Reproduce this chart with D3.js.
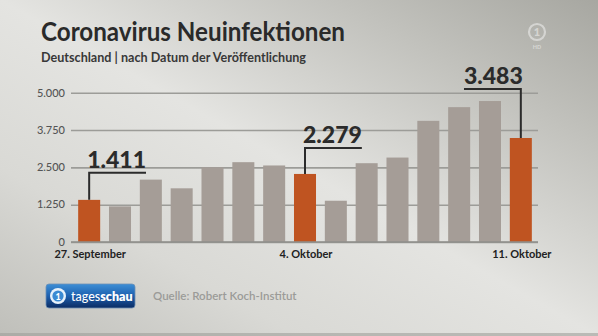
<!DOCTYPE html>
<html>
<head>
<meta charset="utf-8">
<script src="https://cdn.jsdelivr.net/npm/d3@7"></script>
<style>
  html, body { margin: 0; padding: 0; background: #d8d8d4; }
  svg { display: block; }
  text { font-family: Lato, "Open Sans", "DejaVu Sans", sans-serif; }
</style>
</head>
<body>
<script>
// Daily new infections reported (Germany, by publication date)
const days = ["27.09.", "28.09.", "29.09.", "30.09.", "01.10.", "02.10.", "03.10.",
              "04.10.", "05.10.", "06.10.", "07.10.", "08.10.", "09.10.", "10.10.", "11.10."];
const cases = [1411, 1192, 2089, 1798, 2503, 2673, 2563, 2279, 1382, 2639, 2828, 4058, 4516, 4721, 3483];
// Sundays: highlighted bars with a value callout
const highlighted = ["27.09.", "04.10.", "11.10."];
// Axis labels under the highlighted days
const dayLabels = ["27. September", "4. Oktober", "11. Oktober"];
const yTicks = [0, 1250, 2500, 3750, 5000];

const W = 598, H = 336;
const svg = d3.select("body").append("svg").attr("width", W).attr("height", H);
const defs = svg.append("defs");

// background: light diagonal band from top-left to bottom-right
const bg = defs.append("linearGradient").attr("id", "bg")
  .attr("x1", "100%").attr("y1", "0%").attr("x2", "0%").attr("y2", "100%");
[[0, "#a7a7a1"], [0.22, "#c2c2bd"], [0.5, "#e4e4e1"], [0.75, "#d9d9d5"], [1, "#bfbfba"]]
  .forEach(([o, c]) => bg.append("stop").attr("offset", o).attr("stop-color", c));
svg.append("rect").attr("width", W).attr("height", H).attr("fill", "url(#bg)");
svg.append("rect").attr("y", H - 3).attr("width", W).attr("height", 3).attr("fill", "#9f9f9a").attr("opacity", 0.6);

// fit text to a target width
function fit(sel, w) {
  const n = sel.node();
  if (n.getComputedTextLength() > w) sel.attr("textLength", w).attr("lengthAdjust", "spacingAndGlyphs");
}

// title
fit(svg.append("text").attr("x", 41).attr("y", 41)
  .attr("font-size", 27).attr("font-weight", 700).attr("fill", "#2a2a2a")
  .text("Coronavirus Neuinfektionen"), 304);
fit(svg.append("text").attr("x", 41).attr("y", 62)
  .attr("font-size", 14).attr("font-weight", 700).attr("fill", "#383838")
  .text("Deutschland | nach Datum der Veröffentlichung"), 265);

// broadcaster mark, top right
const ard = svg.append("g").attr("transform", "translate(537,32)").attr("opacity", 0.45);
ard.append("circle").attr("r", 8).attr("fill", "none").attr("stroke", "#fff").attr("stroke-width", 2.2);
ard.append("text").attr("text-anchor", "middle").attr("y", 4).attr("font-size", 11)
  .attr("font-weight", 900).attr("fill", "#fff").text("1");
ard.append("text").attr("text-anchor", "middle").attr("y", 17).attr("font-size", 5.5)
  .attr("font-weight", 700).attr("fill", "#fff").text("HD");

// scales
const x = d3.scaleBand().domain(days).range([72, 538]).paddingInner(0.286).paddingOuter(0.2);
const y = d3.scaleLinear().domain([0, 5000]).range([242, 92.7]);
const de = d3.formatLocale({ decimal: ",", thousands: ".", grouping: [3], currency: ["", " €"] });
const fmt = de.format(",d");

// grid + y axis
const yAxis = svg.append("g").attr("transform", "translate(71,0)")
  .call(d3.axisLeft(y).tickValues(yTicks).tickFormat(fmt).tickSize(-(538 - 71)).tickPadding(6));
yAxis.select(".domain").remove();
yAxis.selectAll(".tick line").attr("stroke", "#9c9c98").attr("stroke-width", 1.6);
yAxis.selectAll(".tick text").attr("font-size", 11).attr("font-weight", 500)
  .attr("fill", "#555").attr("font-family", "Lato, sans-serif").attr("dy", "0.3em");

// bars
svg.append("g").selectAll("rect").data(days).join("rect")
  .attr("x", d => x(d)).attr("width", x.bandwidth())
  .attr("y", (d, i) => y(cases[i])).attr("height", (d, i) => y(0) - y(cases[i]))
  .attr("fill", d => highlighted.includes(d) ? "#bf5421" : "#a59d97");

// baseline
svg.append("line").attr("x1", 71).attr("x2", 538).attr("y1", y(0)).attr("y2", y(0))
  .attr("stroke", "#8f8f8b").attr("stroke-width", 1.6);

// x labels
svg.append("g").selectAll("text").data(highlighted).join("text")
  .attr("x", d => x(d) + x.bandwidth() / 2 + 1).attr("y", 258)
  .attr("text-anchor", "middle").attr("font-size", 11).attr("font-weight", 700)
  .attr("fill", "#222").text((d, i) => dayLabels[i]);

// value callouts: vertical leader from bar top, horizontal rule under the number
const calloutLift = [27, 26, 49];
const calloutSide = ["right", "right", "left"];
const callouts = svg.append("g");
highlighted.forEach((d, k) => {
  const v = cases[days.indexOf(d)];
  const cx = x(d) + x.bandwidth() / 2;
  const top = y(v);
  const ly = top - calloutLift[k];
  const t = callouts.append("text").attr("font-size", 23).attr("font-weight", 900)
    .attr("fill", "#2b2b2b").attr("y", ly - 5).text(fmt(v));
  const tw = t.node().getComputedTextLength();
  let x0, x1;
  if (calloutSide[k] === "right") { t.attr("x", cx - 2); x0 = cx; x1 = cx - 2 + tw; }
  else { t.attr("x", cx + 2 - tw); x0 = cx + 2 - tw; x1 = cx; }
  callouts.append("path")
    .attr("d", `M${cx},${top}V${ly}` + (calloutSide[k] === "right" ? `H${x1}` : `H${x0}`))
    .attr("fill", "none").attr("stroke", "#2b2b2b").attr("stroke-width", 2);
});

// tagesschau badge
const lg = defs.append("linearGradient").attr("id", "badge").attr("x1", 0).attr("y1", 0).attr("x2", 0).attr("y2", 1);
[[0, "#3d8fd6"], [0.5, "#1d5fae"], [1, "#0b2c63"]]
  .forEach(([o, c]) => lg.append("stop").attr("offset", o).attr("stop-color", c));
const badge = svg.append("g").attr("transform", "translate(46,284)");
badge.append("rect").attr("width", 89).attr("height", 24).attr("rx", 3)
  .attr("fill", "url(#badge)").attr("stroke", "#6c8fb5").attr("stroke-width", 0.8);
badge.append("circle").attr("cx", 12).attr("cy", 12).attr("r", 8).attr("fill", "#e8f2fb");
badge.append("circle").attr("cx", 12).attr("cy", 12).attr("r", 5.6).attr("fill", "#3b8ad2");
badge.append("text").attr("x", 12).attr("y", 15.5).attr("text-anchor", "middle")
  .attr("font-size", 9).attr("font-weight", 900).attr("fill", "#fff").text("1");
const bt = badge.append("text").attr("x", 25).attr("y", 16.5).attr("font-size", 12.5).attr("fill", "#fff");
bt.append("tspan").attr("font-weight", 500).text("tages");
bt.append("tspan").attr("font-weight", 800).text("schau");

// source
svg.append("text").attr("x", 153).attr("y", 300).attr("font-size", 11.5).attr("font-weight", 600)
  .attr("fill", "#9b9b98").text("Quelle: Robert Koch-Institut");
</script>
</body>
</html>
